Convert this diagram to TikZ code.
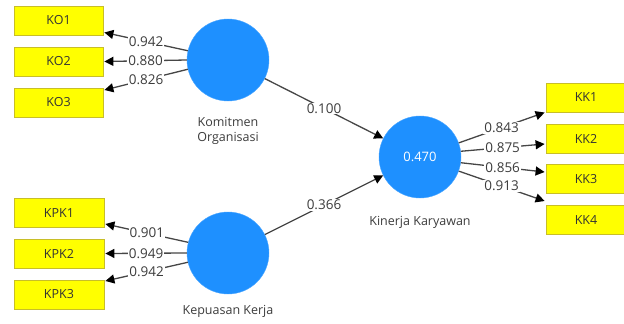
\documentclass[tikz,border=0pt]{standalone}
\usepackage{fontspec}
\setmainfont{Open Sans}
\usetikzlibrary{arrows.meta,positioning}
\definecolor{lvblue}{RGB}{30,144,255}
\definecolor{mvyellow}{RGB}{255,255,0}
\definecolor{mvedge}{RGB}{200,190,40}
\definecolor{pathgray}{RGB}{70,70,70}
\definecolor{txtgray}{RGB}{60,60,60}
\tikzset{
  indicator/.style={draw=mvedge, fill=mvyellow, line width=0.8pt, minimum height=29pt,
    inner sep=0pt, text=black!80, font=\fontsize{12.5}{14}\selectfont},
  construct/.style={circle, fill=lvblue, draw=lvblue!80!white, minimum size=82pt, inner sep=0pt,
    text=white, font=\fontsize{13}{14}\selectfont},
  cname/.style={text=txtgray, align=center, font=\fontsize{12.5}{15}\selectfont},
  relation/.style={draw=pathgray, line width=1.3pt,
    -{Triangle[length=9pt,width=9pt,color=black]}},
  loading/.style={fill=white, inner sep=1pt, text=txtgray, font=\fontsize{13.5}{14}\selectfont}
}
\begin{document}
\begin{tikzpicture}[x=1pt,y=-1pt]
  \useasboundingbox (0,0) rectangle (624,324);
  % latent variables
  \node[construct] (ko) at (228,60) {};
  \node[construct] (kpk) at (228,253) {};
  \node[construct] (kk) at (420,157) {0.470};
  \node[cname, below=13pt of ko] (koname) {Komitmen\\Organisasi};
  \node[cname, below=8pt of kpk] (kpkname) {Kepuasan Kerja};
  \node[cname, below=15pt of kk] (kkname) {Kinerja Karyawan};
  % indicators
  \node[indicator, minimum width=89pt] (KO1) at (58.5,20.5) {KO1};
  \node[indicator, minimum width=89pt] (KO2) at (58.5,61.5) {KO2};
  \node[indicator, minimum width=89pt] (KO3) at (58.5,102.5) {KO3};
  \node[indicator, minimum width=90pt] (KPK1) at (59,213) {KPK1};
  \node[indicator, minimum width=90pt] (KPK2) at (59,253.5) {KPK2};
  \node[indicator, minimum width=90pt] (KPK3) at (59,294.5) {KPK3};
  \node[indicator, minimum width=80pt] (KK1) at (586,97.5) {KK1};
  \node[indicator, minimum width=80pt] (KK2) at (586,139) {KK2};
  \node[indicator, minimum width=80pt] (KK3) at (586,179) {KK3};
  \node[indicator, minimum width=80pt] (KK4) at (586,220) {KK4};
  % outer loadings
  \draw[relation] (ko.167) -- node[loading]{0.942} ([xshift=1pt,yshift=-12pt]KO1.east);
  \draw[relation] (ko.180) -- node[loading]{0.880} ([xshift=1pt]KO2.east);
  \draw[relation] (ko.193) -- node[loading]{0.826} ([xshift=1pt,yshift=12.5pt]KO3.east);
  \draw[relation] (kpk.165) -- node[loading]{0.901} ([xshift=1pt,yshift=-11pt]KPK1.east);
  \draw[relation] (kpk.180) -- node[loading]{0.949} ([xshift=1pt]KPK2.east);
  \draw[relation] (kpk.193) -- node[loading]{0.942} ([xshift=1pt,yshift=13.5pt]KPK3.east);
  \draw[relation] (kk.20) -- node[loading]{0.843} ([xshift=-1pt,yshift=-15pt]KK1.west);
  \draw[relation] (kk.8) -- node[loading]{0.875} ([xshift=-1pt,yshift=-5pt]KK2.west);
  \draw[relation] (kk.-8) -- node[loading]{0.856} ([xshift=-1pt,yshift=7pt]KK3.west);
  \draw[relation] (kk.-20) -- node[loading]{0.913} ([xshift=-1pt,yshift=19pt]KK4.west);
  % path coefficients
  \draw[relation] (ko) -- node[loading]{0.100} (kk);
  \draw[relation] (kpk) -- node[loading]{0.366} (kk);
\end{tikzpicture}
\end{document}
